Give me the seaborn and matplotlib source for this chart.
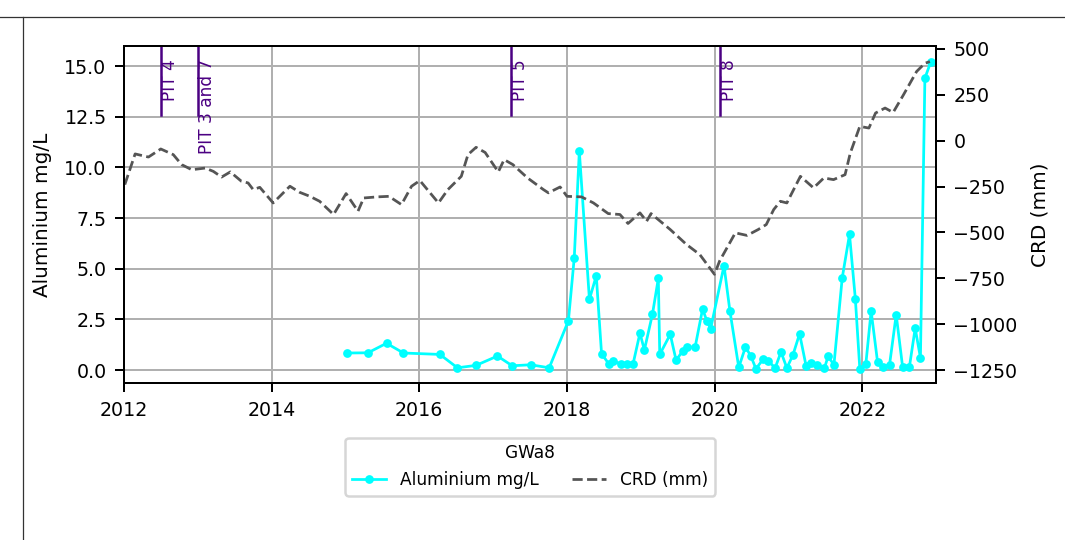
import matplotlib
matplotlib.use("Agg")
import matplotlib.pyplot as plt
import matplotlib.dates as mdates
from matplotlib.lines import Line2D
import pandas as pd
import seaborn as sns

# ─── Data ───────────────────────────────────────────────────────────────────
al_dates = [
    "2015-01-08", "2015-04-22", "2015-07-23", "2015-10-15", "2016-04-12", "2016-07-08",
    "2016-10-08", "2017-01-22", "2017-04-05", "2017-07-05", "2017-10-05", "2018-01-08",
    "2018-02-06", "2018-03-03", "2018-04-22", "2018-05-26", "2018-06-21", "2018-07-27",
    "2018-08-18", "2018-09-27", "2018-10-26", "2018-11-24", "2018-12-28", "2019-01-19",
    "2019-02-28", "2019-03-29", "2019-04-05", "2019-05-27", "2019-06-25", "2019-07-28",
    "2019-08-19", "2019-09-27", "2019-11-03", "2019-11-25", "2019-12-13", "2020-02-17",
    "2020-03-17", "2020-04-30", "2020-06-02", "2020-06-28", "2020-07-24", "2020-08-29",
    "2020-09-24", "2020-10-27", "2020-11-25", "2020-12-24", "2021-01-23", "2021-02-25",
    "2021-03-29", "2021-04-23", "2021-05-23", "2021-06-28", "2021-07-16", "2021-08-14",
    "2021-09-24", "2021-10-30", "2021-11-28", "2021-12-20", "2022-01-19", "2022-02-14",
    "2022-03-18", "2022-04-13", "2022-05-16", "2022-06-18", "2022-07-20", "2022-08-22",
    "2022-09-20", "2022-10-16", "2022-11-07", "2022-12-06",
]
al_values = [
    0.84, 0.85, 1.32, 0.84, 0.77, 0.11,
    0.23, 0.69, 0.21, 0.26, 0.11, 2.43,
    5.54, 10.8, 3.49, 4.65, 0.81, 0.30,
    0.43, 0.30, 0.28, 0.30, 1.82, 0.99,
    2.76, 4.52, 0.77, 1.76, 0.48, 0.95,
    1.13, 1.13, 3.01, 2.40, 2.04, 5.15,
    2.93, 0.13, 1.13, 0.71, 0.06, 0.54,
    0.44, 0.10, 0.89, 0.10, 0.74, 1.79,
    0.21, 0.33, 0.23, 0.10, 0.67, 0.26,
    4.55, 6.69, 3.50, 0.06, 0.31, 2.91,
    0.38, 0.16, 0.25, 2.73, 0.13, 0.13,
    2.06, 0.61, 14.4, 15.2,
]

crd_dates = [
    "2012-01-05", "2012-02-25", "2012-05-01", "2012-07-01", "2012-09-01", "2012-10-12",
    "2012-12-01", "2013-02-06", "2013-03-18", "2013-04-28", "2013-06-10", "2013-08-04",
    "2013-09-06", "2013-10-01", "2013-11-03", "2014-01-08", "2014-04-01", "2014-05-19",
    "2014-07-09", "2014-08-26", "2014-11-03", "2015-01-04", "2015-03-04", "2015-04-01",
    "2015-06-07", "2015-08-04", "2015-10-05", "2015-11-24", "2016-01-04", "2016-04-05",
    "2016-05-22", "2016-07-27", "2016-08-29", "2016-10-08", "2016-11-22", "2017-01-26",
    "2017-02-24", "2017-04-08", "2017-06-20", "2017-09-06", "2017-10-01", "2017-11-28",
    "2018-01-01", "2018-03-14", "2018-05-12", "2018-07-24", "2018-09-20", "2018-10-30",
    "2018-12-28", "2019-01-30", "2019-02-21", "2019-05-27", "2019-08-15", "2019-10-20",
    "2020-01-01", "2020-01-26", "2020-04-13", "2020-06-10", "2020-08-04", "2020-09-13",
    "2020-10-20", "2020-11-22", "2020-12-24", "2021-03-01", "2021-05-05", "2021-06-25",
    "2021-08-12", "2021-10-08", "2021-11-03", "2021-12-20", "2022-02-03", "2022-03-08",
    "2022-04-24", "2022-06-03", "2022-07-24", "2022-09-27", "2022-11-07", "2022-12-02",
]
crd_values = [
    -239, -72, -89, -45, -76, -130,
    -158, -149, -167, -198, -170, -221,
    -230, -266, -254, -339, -248, -281,
    -303, -330, -402, -288, -384, -312,
    -306, -303, -348, -248, -217, -339,
    -266, -194, -76, -36, -64, -170,
    -103, -130, -203, -266, -284, -252,
    -303, -306, -339, -397, -402, -451,
    -393, -439, -397, -484, -565, -620,
    -728, -656, -502, -516, -484, -457,
    -375, -330, -339, -194, -257, -203,
    -212, -185, -67, 78, 69, 151,
    178, 154, 250, 377, 422, 431,
]

pit_dates = ["2012-07-01", "2013-01-01", "2017-04-01", "2020-01-27"]
pit_labels = ["PIT 4", "PIT 3 and 7", "PIT 5", "PIT 8"]

# ─── Style ──────────────────────────────────────────────────────────────────
plt.rcParams.update({
    "font.family": ["DejaVu Sans"],
    "font.size": 6.8,
    "xtick.labelsize": 7.6,
    "ytick.labelsize": 7.6,
    "axes.labelsize": 8.0,
})

al = pd.DataFrame({"date": pd.to_datetime(al_dates), "value": al_values})
crd = pd.DataFrame({"date": pd.to_datetime(crd_dates), "value": crd_values})

fig = plt.figure(figsize=(1065 / 180, 540 / 180), dpi=180)
ax = fig.add_axes([124 / 1065, 1 - 383 / 540, (936 - 124) / 1065, (383 - 46) / 540])
ax2 = ax.twinx()

sns.lineplot(data=al, x="date", y="value", ax=ax, color="cyan", marker="o",
             markersize=3.5, markeredgewidth=0, linewidth=1.1, label="Aluminium mg/L", legend=False)
sns.lineplot(data=crd, x="date", y="value", ax=ax2, color="#555555", linestyle="--",
             linewidth=1.1, label="CRD (mm)", legend=False)

# PIT markers
for d, lab in zip(pit_dates, pit_labels):
    dt = pd.Timestamp(d)
    ax.axvline(dt, ymin=0.795, ymax=1.0, color="indigo", linewidth=1.0)
    ax.text(dt, 0.962, lab, rotation=90, ha="left", va="top", color="indigo",
            transform=ax.get_xaxis_transform())

ax.set_xlim(pd.Timestamp("2012-01-01"), pd.Timestamp("2023-01-01"))
ax.xaxis.set_major_locator(mdates.YearLocator(2))
ax.xaxis.set_major_formatter(mdates.DateFormatter("%Y"))
ax.set_ylim(-0.64, 15.99)
ax.set_yticks([0, 2.5, 5, 7.5, 10, 12.5, 15])
ax2.set_ylim(-1320, 516)
ax2.set_yticks([-1250, -1000, -750, -500, -250, 0, 250, 500])

ax.set_xlabel("")
ax.set_ylabel("Aluminium mg/L", labelpad=5)
ax2.set_ylabel("CRD (mm)", labelpad=5)
ax.grid(True, color="#b0b0b0", linewidth=0.8)
ax.set_axisbelow(True)

h1, l1 = ax.get_legend_handles_labels()
h2, l2 = ax2.get_legend_handles_labels()
ax.legend(h1 + h2, l1 + l2, title="GWa8", ncol=2, loc="upper center",
          bbox_to_anchor=(0.5, -0.162), borderaxespad=0, frameon=True)

# notebook cell frame seen in the reference
fig.add_artist(Line2D([0, 1], [1 - 16.5 / 540] * 2, transform=fig.transFigure,
                      color="#333333", linewidth=0.5))
fig.add_artist(Line2D([22.5 / 1065] * 2, [0, 1 - 16.5 / 540], transform=fig.transFigure,
                      color="#333333", linewidth=0.5))

fig.savefig("out.png", dpi=180)
